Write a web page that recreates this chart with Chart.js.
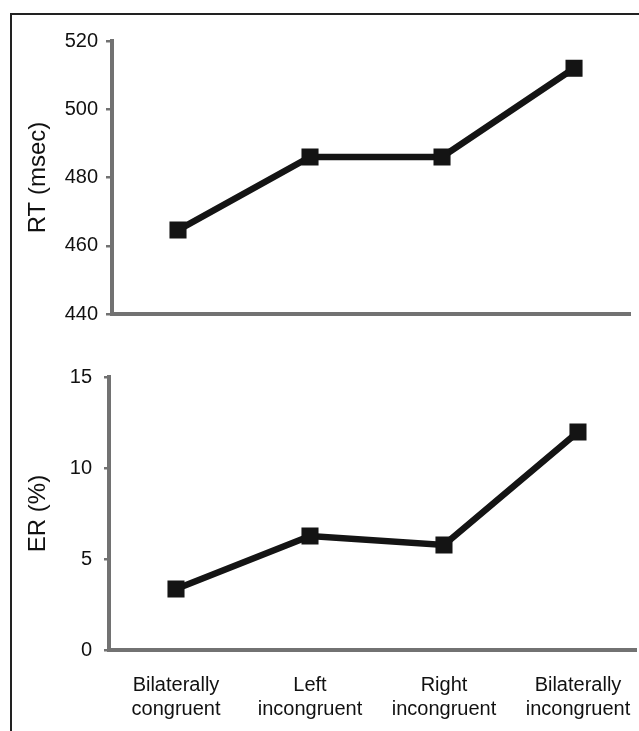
<!DOCTYPE html>
<html>
<head>
<meta charset="utf-8">
<script src="https://cdn.jsdelivr.net/npm/chart.js@4.4.1/dist/chart.umd.min.js"></script>
<style>
  html, body { margin: 0; padding: 0; background: #fff; }
  body { width: 639px; height: 731px; position: relative; overflow: hidden; }
  #frame { position: absolute; left: 10px; top: 13px; width: 640px; height: 730px;
           border-top: 2px solid #222; border-left: 2px solid #222; }
  #c1 { position: absolute; left: 0; top: 0; }
  #c2 { position: absolute; left: 0; top: 340px; }
</style>
</head>
<body>
<div id="frame"></div>
<canvas id="c1" width="639" height="340"></canvas>
<canvas id="c2" width="639" height="391"></canvas>
<script>
// ---- data ----
const categories = [
  ['Bilaterally', 'congruent'],
  ['Left', 'incongruent'],
  ['Right', 'incongruent'],
  ['Bilaterally', 'incongruent']
];
const rtValues = [464.6, 486.0, 486.0, 512.0];
const erValues = [3.35, 6.26, 5.77, 11.98];
const rtTicks = [440, 460, 480, 500, 520];
const erTicks = [0, 5, 10, 15];
const rtTitle = 'RT (msec)';
const erTitle = 'ER (%)';

// ---- style ----
const FONT = "'Liberation Sans', Arial, Helvetica, sans-serif";
const AXIS = '#727272';
const INK = '#141414';
const TXT = '#111';

function toPoints(vals) { return vals.map((v, i) => ({ x: i, y: v })); }

function makeChart(id, vals, yTicks, title, opts) {
  return new Chart(document.getElementById(id), {
    type: 'line',
    data: {
      datasets: [{
        data: toPoints(vals),
        borderColor: INK,
        backgroundColor: INK,
        borderWidth: 6.5,
        pointStyle: 'rect',
        pointRadius: 11,
        pointBorderWidth: 1.5,
        pointBackgroundColor: INK,
        pointBorderColor: INK,
        tension: 0,
        clip: false
      }]
    },
    options: {
      responsive: false,
      animation: false,
      events: [],
      layout: { autoPadding: false, padding: { top: opts.top, right: opts.right, left: 0, bottom: 0 } },
      plugins: { legend: { display: false }, tooltip: { enabled: false } },
      scales: {
        x: {
          type: 'linear',
          min: -0.5,
          max: opts.xmax,
          afterFit: s => { s.height = opts.xh; s.paddingLeft = 0; s.paddingRight = 0; },
          afterBuildTicks: s => { s.ticks = categories.map((c, i) => ({ value: i })); },
          grid: { display: false },
          border: { display: true, color: AXIS, width: 4 },
          ticks: {
            display: opts.showX,
            padding: 15,
            color: TXT,
            font: { family: FONT, size: 20, lineHeight: 1.2 },
            maxRotation: 0,
            autoSkip: false,
            callback: v => categories[v]
          }
        },
        y: {
          min: yTicks[0],
          max: yTicks[yTicks.length - 1],
          afterFit: s => { s.width = opts.yw; s.paddingTop = 0; s.paddingBottom = 0; },
          afterBuildTicks: s => { s.ticks = yTicks.map(v => ({ value: v })); },
          grid: { display: true, drawOnChartArea: false, drawTicks: true, tickLength: opts.tl, color: AXIS, lineWidth: 2.5 },
          border: { display: true, color: AXIS, width: 4 },
          ticks: {
            padding: opts.tp,
            color: TXT,
            font: { family: FONT, size: 20 }
          },
          title: {
            display: true,
            text: title,
            color: TXT,
            font: { family: FONT, size: 24, lineHeight: 1.2 },
            padding: { top: 24, bottom: 0 }
          }
        }
      }
    }
  });
}

makeChart('c1', rtValues, rtTicks, rtTitle, { top: 41, right: 9, xmax: 3.424, xh: 26, yw: 112, showX: false, tl: 6, tp: 8 });
makeChart('c2', erValues, erTicks, erTitle, { top: 37, right: 3, xmax: 3.433, xh: 81, yw: 109, showX: true, tl: 5, tp: 12 });
</script>
</body>
</html>
